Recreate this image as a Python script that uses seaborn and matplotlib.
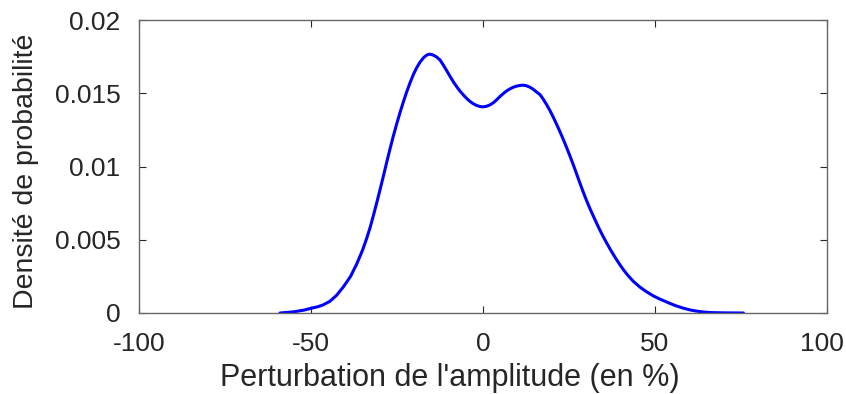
import matplotlib
matplotlib.use("Agg")
import matplotlib.pyplot as plt
import matplotlib.transforms as mtransforms
import seaborn as sns
import pandas as pd

# Values
perturbation = [-59.0, -55.0, -52.0, -50.0, -48.0, -46.5, -44.5, -42.6, -40.6, -38.5,
                -36.7, -35.0, -33.8, -32.8, -31.9, -30.9, -29.9, -28.9, -28.0, -27.0,
                -26.1, -25.1, -24.1, -23.1, -22.2, -21.2, -20.2, -19.3, -18.3, -17.3,
                -16.4, -15.6, -14.6, -13.5, -12.5, -11.6, -10.5, -9.5, -8.5, -7.6,
                -6.7, -5.5, -4.5, -3.8, -3.0, -2.0, -1.0, 0.0, 1.0, 2.0,
                3.0, 4.0, 4.9, 6.0, 7.0, 8.0, 9.0, 10.0, 11.0, 11.7,
                12.5, 13.5, 14.5, 15.5, 16.6, 17.5, 18.5, 19.5, 20.4, 21.5,
                22.4, 23.3, 24.3, 25.2, 26.2, 27.2, 28.2, 29.1, 30.1, 31.1,
                32.1, 33.0, 34.0, 35.0, 35.9, 37.0, 38.5, 39.7, 40.8, 42.0,
                43.7, 45.6, 47.6, 49.5, 51.5, 54.3, 56.0, 58.2, 60.0, 62.0,
                64.0, 66.0, 70.0, 75.7]
densite = [0.00000, 0.00008, 0.00020, 0.00032, 0.00043, 0.00055, 0.00080, 0.00120, 0.00178, 0.00250,
           0.00335, 0.00430, 0.00510, 0.00585, 0.00662, 0.00752, 0.00845, 0.00940, 0.01028, 0.01123,
           0.01205, 0.01290, 0.01370, 0.01445, 0.01508, 0.01572, 0.01630, 0.01673, 0.01713, 0.01742,
           0.01760, 0.01767, 0.01762, 0.01748, 0.01727, 0.01695, 0.01652, 0.01612, 0.01574, 0.01543,
           0.01515, 0.01483, 0.01459, 0.01445, 0.01431, 0.01418, 0.01410, 0.01407, 0.01411, 0.01420,
           0.01435, 0.01456, 0.01477, 0.01500, 0.01518, 0.01532, 0.01543, 0.01550, 0.01554, 0.01555,
           0.01552, 0.01543, 0.01529, 0.01510, 0.01490, 0.01460, 0.01422, 0.01380, 0.01338, 0.01283,
           0.01236, 0.01187, 0.01130, 0.01076, 0.01015, 0.00950, 0.00885, 0.00828, 0.00768, 0.00712,
           0.00660, 0.00614, 0.00565, 0.00519, 0.00480, 0.00434, 0.00376, 0.00333, 0.00296, 0.00260,
           0.00216, 0.00177, 0.00144, 0.00117, 0.00094, 0.00066, 0.00050, 0.00033, 0.00022, 0.00013,
           0.00007, 0.00003, 0.00001, 0.00000]

xticks = [-100, -50, 0, 50, 100]
yticks = [0, 0.005, 0.01, 0.015, 0.02]
ytick_labels = ["0", "0.005", "0.01", "0.015", "0.02"]

df = pd.DataFrame({"x": perturbation, "y": densite})

sns.set_style("white")
plt.rcParams['font.family'] = ['Liberation Sans', 'DejaVu Sans']

fig = plt.figure(figsize=(8.46, 3.94), dpi=100)
ax = fig.add_axes([139/846, 81/394, (827-139)/846, (313-20)/394])

sns.lineplot(data=df, x="x", y="y", ax=ax, color="#0000ff", linewidth=2.2, sort=False)

ax.set_xlim(-100, 100)
ax.set_ylim(0, 0.02)
ax.set_xticks(xticks)
ax.set_xticklabels([str(t) for t in xticks])
ax.set_yticks(yticks)
ax.set_yticklabels(ytick_labels)

for s in ax.spines.values():
    s.set_visible(True)
    s.set_color("#666666")
    s.set_linewidth(1.0)

ax.tick_params(direction="in", length=5, width=0.8, color="#262626",
               labelsize=19, labelcolor="#262626", top=True, right=True,
               bottom=True, left=True)
ax.tick_params(axis="x", pad=13.5)
ax.tick_params(axis="y", pad=13.5)

# nudge the last x tick label slightly left so it stays inside the figure
last = ax.get_xticklabels()[-1]
last.set_transform(last.get_transform() +
                   mtransforms.ScaledTranslation(-5/100, 0, fig.dpi_scale_trans))

ax.set_xlabel("Perturbation de l'amplitude (en %)", fontsize=22, color="#262626")
ax.set_ylabel("Densité de probabilité", fontsize=20.5, color="#262626")
ax.xaxis.set_label_coords(0.452, -0.172)
ax.yaxis.set_label_coords(-0.145, 0.485)

fig.savefig("out.png", dpi=100)
